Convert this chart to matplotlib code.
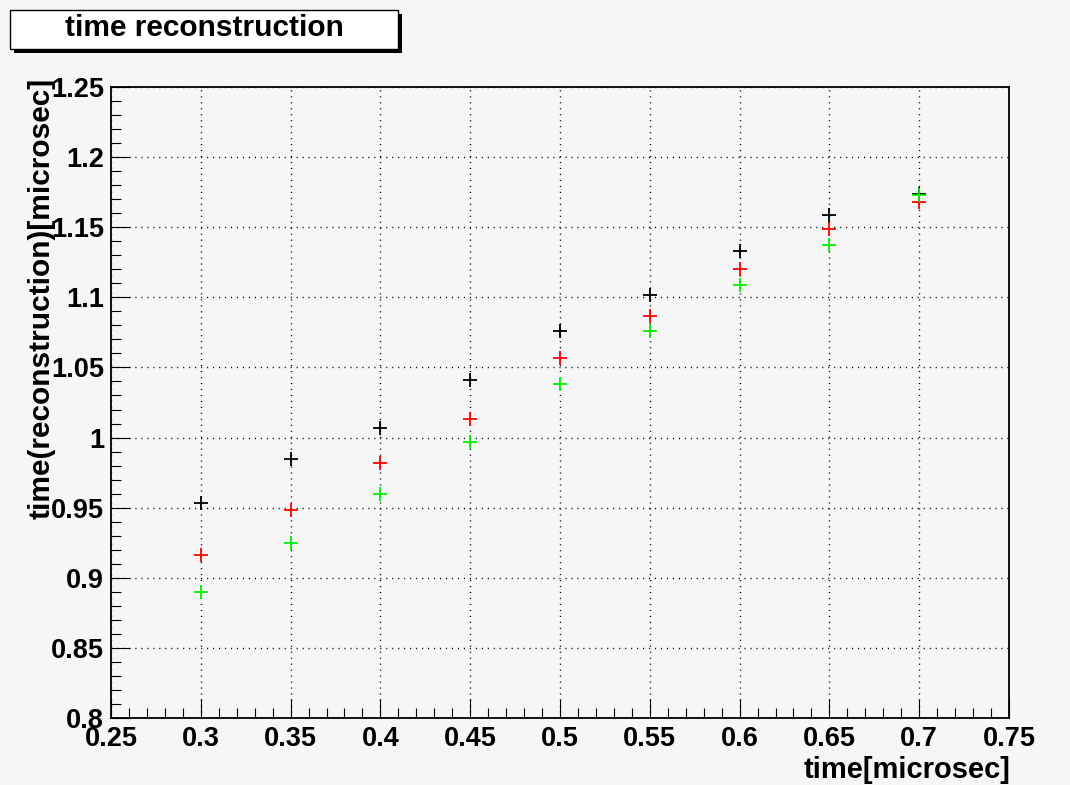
import matplotlib
matplotlib.use("Agg")
import matplotlib.pyplot as plt
from matplotlib.patches import Rectangle
from matplotlib.ticker import MultipleLocator, FuncFormatter

# true time vs reconstructed time, three reconstructions
t_true = [0.30, 0.35, 0.40, 0.45, 0.50, 0.55, 0.60, 0.65, 0.70]
t_black = [0.953, 0.985, 1.007, 1.041, 1.076, 1.102, 1.133, 1.159, 1.174]
t_red = [0.916, 0.948, 0.982, 1.013, 1.057, 1.087, 1.120, 1.149, 1.168]
t_green = [0.890, 0.925, 0.960, 0.997, 1.038, 1.076, 1.109, 1.137, 1.173]

bg = "#f6f6f6"
W, H = 1070, 785

fig = plt.figure(figsize=(10.7, 7.85), dpi=100, facecolor=bg)
ax = fig.add_axes([111 / W, 1 - 718 / H, (1009 - 111) / W, (718 - 87) / H])
ax.set_facecolor(bg)

for ys, col in [(t_black, "black"), (t_red, "#ff0000"), (t_green, "#00f000")]:
    ax.plot(t_true, ys, linestyle="none", marker="+", color=col,
            markersize=10, markeredgewidth=1.3)

ax.set_xlim(0.25, 0.75)
ax.set_ylim(0.8, 1.25)
ax.xaxis.set_major_locator(MultipleLocator(0.05))
ax.xaxis.set_minor_locator(MultipleLocator(0.01))
ax.yaxis.set_major_locator(MultipleLocator(0.05))
ax.yaxis.set_minor_locator(MultipleLocator(0.01))
fmt = FuncFormatter(lambda v, p: "%g" % round(v, 3))
ax.xaxis.set_major_formatter(fmt)
ax.yaxis.set_major_formatter(fmt)

ax.grid(True, which="major", color="black", linestyle=(0, (0.8, 3.5)), linewidth=1)
ax.tick_params(which="both", direction="in", top=False, right=False, width=0.8)
ax.tick_params(which="major", length=13.5)
ax.tick_params(which="minor", length=7)
ax.tick_params(axis="x", pad=6)
ax.tick_params(axis="y", pad=5)
for sp in ax.spines.values():
    sp.set_linewidth(1.3)

for lab in ax.get_xticklabels() + ax.get_yticklabels():
    lab.set_family("Liberation Sans")
    lab.set_fontweight("bold")
    lab.set_fontsize(19.5)

# axis titles placed ROOT style, at the end of the axes
fig.text(1010 / W, 1 - 770 / H, "time[microsec]", ha="right", va="center",
         fontsize=21, fontweight="bold", family="Liberation Sans")
fig.text(42 / W, 1 - 78 / H, "time(reconstruction)[microsec]", rotation=90,
         ha="center", va="top", fontsize=21.5, fontweight="bold", family="Liberation Sans")

# title box with shadow
fig.add_artist(Rectangle((14 / W, 1 - 53 / H), 388 / W, 39 / H, transform=fig.transFigure,
                         facecolor="black", edgecolor="none"))
fig.add_artist(Rectangle((10 / W, 1 - 49 / H), 388 / W, 39 / H, transform=fig.transFigure,
                         facecolor="white", edgecolor="black", linewidth=1))
fig.text(204 / W, 1 - 28 / H, "time reconstruction", ha="center", va="center",
         fontsize=21.5, fontweight="bold", family="Liberation Sans")

fig.savefig("out.png", dpi=100, facecolor=bg)
